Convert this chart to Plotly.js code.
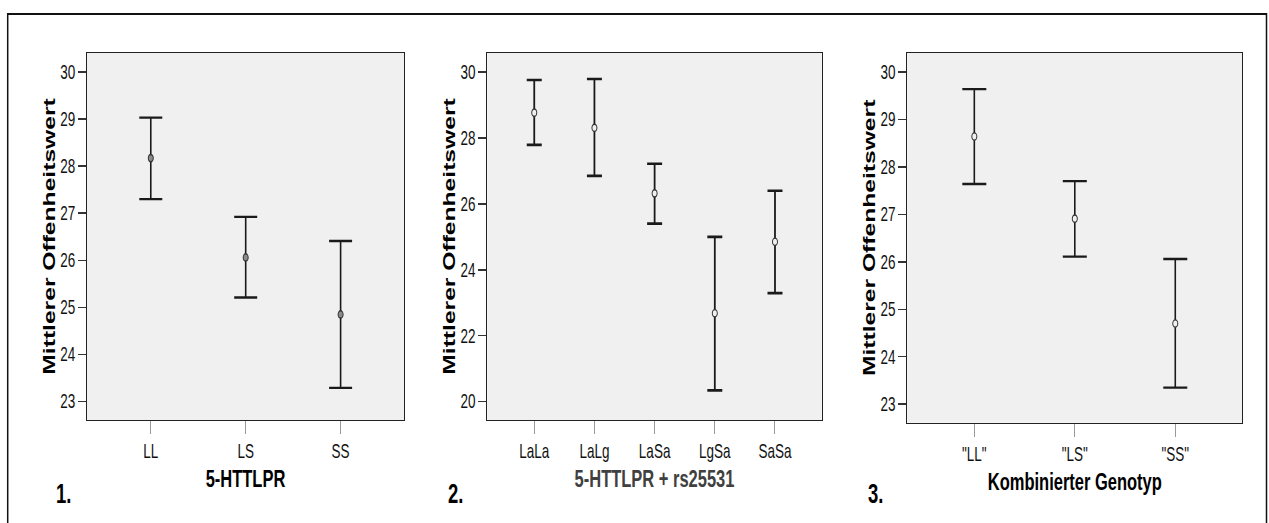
<!DOCTYPE html>
<html>
<head>
<meta charset="utf-8">
<script src="https://cdn.plot.ly/plotly-3.0.1.min.js"></script>
<style>
  html, body { margin: 0; padding: 0; background: #fff; }
  body { width: 1269px; height: 523px; overflow: visible; }
  #plot { width: 1269px; height: 361px; transform: scale(1, 1.44875); transform-origin: 0 0; }
</style>
</head>
<body>
<div id="plot"></div>
<script>
// ---- data ----
const cats1 = ['LL', 'LS', 'SS'];
const mean1 = [28.17, 26.06, 24.85];
const upper1 = [29.03, 26.92, 26.41];
const lower1 = [27.30, 25.21, 23.29];

const cats2 = ['LaLa', 'LaLg', 'LaSa', 'LgSa', 'SaSa'];
const mean2 = [28.77, 28.31, 26.32, 22.68, 24.85];
const upper2 = [29.76, 29.79, 27.22, 25.00, 26.40];
const lower2 = [27.79, 26.85, 25.40, 20.34, 23.29];

const cats3 = ['"LL"', '"LS"', '"SS"'];
const mean3 = [28.64, 26.91, 24.70];
const upper3 = [29.64, 27.70, 26.06];
const lower3 = [27.64, 26.11, 23.35];

const xTitles = ['5-HTTLPR', '5-HTTLPR + rs25531', 'Kombinierter Genotyp'];
const yTitle = 'Mittlerer Offenheitswert';
const panelLabels = ['1.', '2.', '3.'];

// ---- build ----
const FONT = 'Liberation Sans, Arial, Helvetica, sans-serif';
function trace(cats, mean, up, lo, xa, ya, capw, fill, thick) {
  return {
    type: 'scatter', mode: 'markers', x: cats, y: mean, xaxis: xa, yaxis: ya,
    marker: { symbol: 'circle', size: 5, color: fill, line: { color: '#333', width: 1 } },
    error_y: {
      type: 'data', symmetric: false,
      array: up.map((v, i) => v - mean[i]),
      arrayminus: lo.map((v, i) => mean[i] - v),
      color: '#1a1a1a', thickness: thick, width: capw
    },
    showlegend: false, hoverinfo: 'skip'
  };
}
const data = [
  trace(cats1, mean1, upper1, lower1, 'x', 'y', 11.5, '#8a8a8a', 1.6),
  trace(cats2, mean2, upper2, lower2, 'x2', 'y2', 7.5, '#f0f0f0', 1.8),
  trace(cats3, mean3, upper3, lower3, 'x3', 'y3', 12, '#f0f0f0', 1.6)
];

const W = 1269, H = 523;
function xax(domain, title, color) {
  return {
    domain: domain.map(v => v / W),
    type: 'category', showgrid: false, zeroline: false,
    showline: true, mirror: true, linecolor: '#222', linewidth: 1,
    ticks: 'outside', ticklen: 9, tickcolor: '#999', tickwidth: 1,
    tickfont: { family: FONT, size: 13.5, color: '#111' },
    title: { text: title, standoff: 6, font: { family: FONT, size: 16.5, weight: 'bold', color: color } },
    fixedrange: true
  };
}
function yax(domain, range, dtick, anchor) {
  return {
    domain: domain.map(v => 1 - v / H).reverse(), anchor: anchor,
    range: range, dtick: dtick, tick0: 0, showgrid: false, zeroline: false,
    showline: true, mirror: true, linecolor: '#222', linewidth: 1,
    ticks: 'outside', ticklen: 8, tickcolor: '#333', tickwidth: 1,
    tickfont: { family: FONT, size: 13.5, color: '#111' },
    title: { text: yTitle, standoff: 0, font: { family: FONT, size: 17, weight: 'bold', color: '#000' } },
    fixedrange: true
  };
}

const xa1 = xax([87, 404], xTitles[0], '#000'); xa1.anchor = 'y'; xa1.range = [-0.672, 2.668];
const xa2 = xax([487.3, 821.7], xTitles[1], '#404040'); xa2.anchor = 'y2'; xa2.range = [-0.78, 4.776];
const xa3 = xax([907.3, 1242.3], xTitles[2], '#000'); xa3.anchor = 'y3'; xa3.range = [-0.667, 2.667];

const layout = {
  width: W, height: 361,
  margin: { l: 0, r: 0, t: 0, b: 0 },
  paper_bgcolor: '#ffffff', plot_bgcolor: '#f0f0f0',
  font: { family: FONT },
  xaxis: xa1, xaxis2: xa2, xaxis3: xa3,
  yaxis: yax([53, 420], [22.61, 30.40], 1, 'x'),
  yaxis2: yax([53, 420], [19.44, 30.58], 2, 'x2'),
  yaxis3: yax([53, 422.7], [22.61, 30.40], 1, 'x3'),
  shapes: [{
    type: 'rect', xref: 'paper', yref: 'paper',
    x0: 7.7 / W, x1: 1266.5 / W, y0: -0.05, y1: 1 - 14 / H,
    line: { color: '#111', width: 1.5 }, fillcolor: 'rgba(0,0,0,0)'
  }],
  annotations: panelLabels.map((t, i) => ({
    text: t, xref: 'paper', yref: 'paper', showarrow: false,
    x: [54, 445.7, 866][i] / W, y: 1 - 494 / H, xanchor: 'left', yanchor: 'middle',
    font: { family: FONT, size: 18.5, weight: 'bold', color: '#000' }
  }))
};
Plotly.newPlot('plot', data, layout, { staticPlot: true, displayModeBar: false });
</script>
</body>
</html>
